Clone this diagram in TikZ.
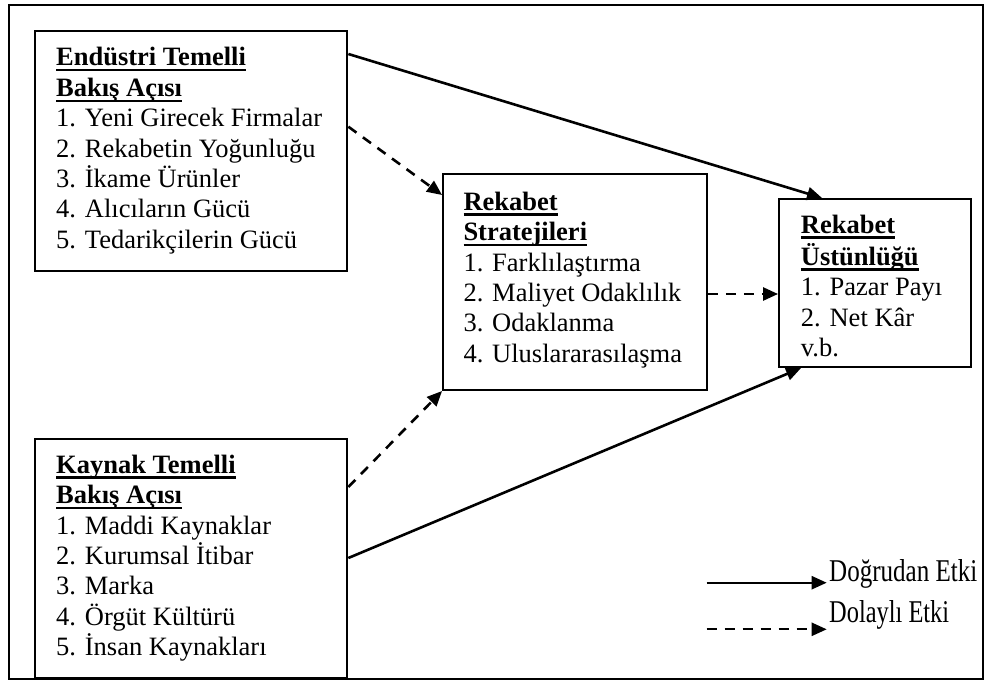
\documentclass[tikz,border=0pt]{standalone}
\usepackage{fontspec}
\setmainfont{Liberation Serif}
\usetikzlibrary{arrows.meta}
\newlength\ulw
\newcommand\myul[1]{\settowidth\ulw{#1}\rlap{\rule[-5.5pt]{\ulw}{2.3pt}}#1}
\begin{document}
\begin{tikzpicture}[x=1pt,y=-1pt,
  box/.style={draw,line width=2pt,inner sep=0pt},
  txt/.style={anchor=north west,inner sep=0pt,align=left,font=\fontsize{26.5}{30.4}\selectfont},
  conn/.style={line width=2.6pt,-{Triangle[length=15pt,width=13pt]}},
  dconn/.style={conn,dash pattern=on 10pt off 8pt},
  leg/.style={anchor=base west,inner sep=0pt}]
\useasboundingbox (0,0) rectangle (984,680);
\draw[line width=1.8pt] (9.3,5) rectangle (983,679);

% boxes
\node[box,minimum width=312.3pt,minimum height=240pt] (b1) at (191.2,150.7) {};
\node[box,minimum width=263.7pt,minimum height=216pt] (b2) at (574.9,282) {};
\node[box,minimum width=192.3pt,minimum height=168pt] (b3) at (875.2,283) {};
\node[box,minimum width=312.3pt,minimum height=239pt] (b4) at (191.2,558.5) {};

% texts
\node[txt] (t1) at (56,45.7) {\rule{0pt}{20pt}\textbf{\myul{Endüstri Temelli}}\\
\textbf{\myul{Bakış Açısı}}\\
1. Yeni Girecek Firmalar\\
2. Rekabetin Yoğunluğu\\
3. İkame Ürünler\\
4. Alıcıların Gücü\\
5. Tedarikçilerin Gücü};
\node[txt] (t2) at (463.3,190) {\rule{0pt}{20pt}\textbf{\myul{Rekabet}}\\
\textbf{\myul{Stratejileri}}\\
1. Farklılaştırma\\
2. Maliyet Odaklılık\\
3. Odaklanma\\
4. Uluslararasılaşma};
\node[txt] (t3) at (800.7,213) {\rule{0pt}{20pt}\textbf{\myul{Rekabet}}\\[1.6pt]
\textbf{\myul{Üstünlüğü}}\\
1. Pazar Payı\\
2. Net Kâr\\
v.b.};
\node[txt] (t4) at (56,453) {\rule{0pt}{20pt}\textbf{\myul{Kaynak Temelli}}\\
\textbf{\myul{Bakış Açısı}}\\
1. Maddi Kaynaklar\\
2. Kurumsal İtibar\\
3. Marka\\
4. Örgüt Kültürü\\
5. İnsan Kaynakları};

% connectors
\draw[conn] ([yshift=-24.3pt]b1.north east) -- ([xshift=44pt]b3.north west);
\draw[dconn] ([yshift=-97pt]b1.north east) -- ([yshift=-22pt]b2.north west);
\draw[dconn] ([yshift=-121pt]b2.north east) -- ([yshift=-96pt]b3.north west);
\draw[conn] ([yshift=-120pt]b4.north east) -- ([xshift=23pt]b3.south west);
\draw[dconn] ([yshift=-49pt]b4.north east) -- (b2.south west);

% legend
\coordinate (s1) at (706.7,582.7);
\coordinate (e1) at (826.7,582.7);
\coordinate (s2) at (706.7,629.3);
\coordinate (e2) at (826.7,629.3);
\draw[conn,line width=2.3pt] (s1) -- (e1);
\draw[dconn,line width=2.3pt] (s2) -- (e2);
\node[leg] (l1) at (829,581.7) {\scalebox{0.79}[1]{\fontsize{31.7}{36}\selectfont Doğrudan Etki}};
\node[leg] (l2) at (829,622.7) {\scalebox{0.77}[1]{\fontsize{31.7}{36}\selectfont Dolaylı Etki}};
\end{tikzpicture}
\end{document}
